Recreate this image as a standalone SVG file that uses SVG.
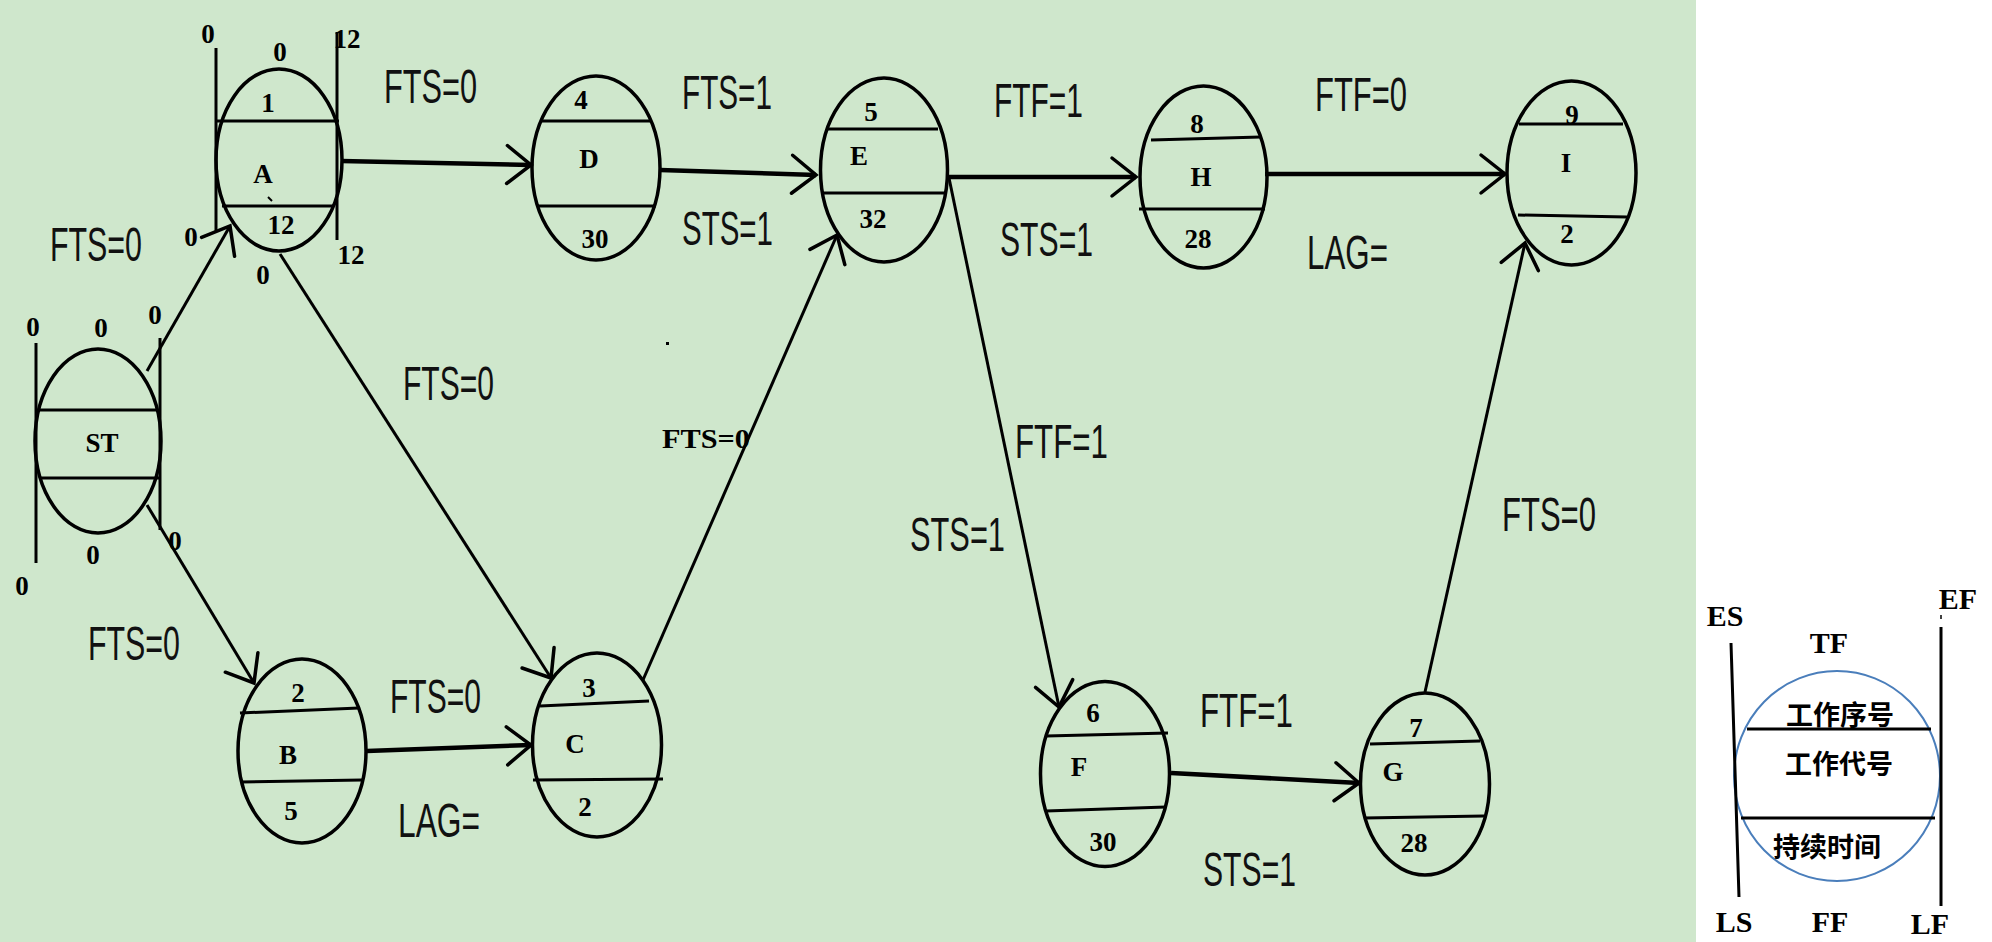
<svg xmlns="http://www.w3.org/2000/svg" width="1992" height="942" viewBox="0 0 1992 942">
<defs>
<style>
.node ellipse{fill:none;stroke:#000;stroke-width:3.5}
.dv{stroke:#000;stroke-width:3}
.vl{stroke:#000;stroke-width:3}
.t{font-family:"Liberation Serif",serif;font-weight:bold;font-size:27px;text-anchor:middle;fill:#000}
.lg{font-family:"Liberation Serif",serif;font-weight:bold;font-size:30px;text-anchor:middle;fill:#000}
.rel{font-family:"Liberation Sans",sans-serif;font-size:48px;fill:#111}
.conn path{fill:none;stroke:#000;stroke-width:3;marker-end:url(#arr)}
.conn path.thick{stroke-width:4.5}
.cjk{font-family:"Liberation Sans","Noto Sans CJK SC",sans-serif;font-weight:bold;font-size:27px;text-anchor:middle;fill:#000}
</style>
<marker id="arr" markerUnits="userSpaceOnUse" viewBox="-30 -25 35 50" refX="0" refY="0" markerWidth="35" markerHeight="50" orient="auto">
<path d="M-24,-19 L0,0 L-24,19" fill="none" stroke="#000" stroke-width="3.5" stroke-linecap="round" stroke-linejoin="miter"/>
</marker>
</defs>
<rect x="0" y="0" width="1992" height="942" fill="#ffffff"/>
<rect x="0" y="0" width="1696" height="942" fill="#cfe7cc"/>

<g id="connectors" class="conn">
<path d="M147,371 L230,226"/>
<path d="M147,505 L254,683"/>
<path class="thick" d="M341,161 L531,165"/>
<path d="M280,254 L551,678"/>
<path class="thick" d="M367,751 L531,745"/>
<path d="M643,680 L837,235"/>
<path class="thick" d="M660,170 L816,175"/>
<path class="thick" d="M948,177 L1136,177"/>
<path class="thick" d="M1265,174 L1505,174"/>
<path d="M949,178 L1059,707"/>
<path class="thick" d="M1171,773 L1359,783"/>
<path d="M1425,692 L1525,243"/>
</g>

<g id="labels">
<text class="rel" x="384" y="103" textLength="93" lengthAdjust="spacingAndGlyphs">FTS=0</text>
<text class="rel" x="682" y="109" textLength="90" lengthAdjust="spacingAndGlyphs">FTS=1</text>
<text class="rel" x="682" y="245" textLength="91" lengthAdjust="spacingAndGlyphs">STS=1</text>
<text class="rel" x="994" y="117" textLength="89" lengthAdjust="spacingAndGlyphs">FTF=1</text>
<text class="rel" x="1000" y="256" textLength="93" lengthAdjust="spacingAndGlyphs">STS=1</text>
<text class="rel" x="1315" y="111" textLength="92" lengthAdjust="spacingAndGlyphs">FTF=0</text>
<text class="rel" x="1307" y="269" textLength="81" lengthAdjust="spacingAndGlyphs">LAG=</text>
<text class="rel" transform="translate(50,261) scale(0.633,1)" x="0" y="0">FTS=0</text>
<text class="rel" x="403" y="400" textLength="91" lengthAdjust="spacingAndGlyphs">FTS=0</text>
<text x="662" y="448" textLength="88" lengthAdjust="spacingAndGlyphs" style="font-family:'Liberation Serif',serif;font-weight:bold;font-size:28px;fill:#000">FTS=0</text>
<text class="rel" x="88" y="660" textLength="92" lengthAdjust="spacingAndGlyphs">FTS=0</text>
<text class="rel" x="390" y="713" textLength="91" lengthAdjust="spacingAndGlyphs">FTS=0</text>
<text class="rel" x="398" y="837" textLength="82" lengthAdjust="spacingAndGlyphs">LAG=</text>
<text class="rel" x="1015" y="458" textLength="93" lengthAdjust="spacingAndGlyphs">FTF=1</text>
<text class="rel" x="910" y="551" textLength="95" lengthAdjust="spacingAndGlyphs">STS=1</text>
<text class="rel" x="1502" y="531" textLength="94" lengthAdjust="spacingAndGlyphs">FTS=0</text>
<text class="rel" x="1200" y="727" textLength="93" lengthAdjust="spacingAndGlyphs">FTF=1</text>
<text class="rel" x="1203" y="886" textLength="93" lengthAdjust="spacingAndGlyphs">STS=1</text>
<rect x="666" y="342" width="3" height="3" fill="#000"/>
</g>

<g id="node-ST" class="node">
<ellipse cx="98" cy="441" rx="63" ry="92"/>
<line class="dv" x1="38" y1="410" x2="158" y2="410"/>
<line class="dv" x1="39" y1="478" x2="160" y2="478"/>
<line class="vl" x1="36" y1="343" x2="36" y2="563"/>
<line class="vl" x1="160" y1="338" x2="160" y2="530"/>
<text class="t" x="33" y="336">0</text>
<text class="t" x="101" y="337">0</text>
<text class="t" x="155" y="324">0</text>
<text class="t" x="102" y="452">ST</text>
<text class="t" x="93" y="564">0</text>
<text class="t" x="175" y="550">0</text>
<text class="t" x="22" y="595">0</text>
</g>

<g id="node-A" class="node">
<ellipse cx="279" cy="160" rx="63" ry="91"/>
<line class="dv" x1="217" y1="121" x2="339" y2="121"/>
<line class="dv" x1="222" y1="206" x2="333" y2="206"/>
<line class="vl" x1="216" y1="48" x2="216" y2="232"/>
<line class="vl" x1="337" y1="32" x2="337" y2="240"/>
<line x1="268" y1="197" x2="272" y2="201" stroke="#000" stroke-width="2"/>
<text class="t" x="208" y="43">0</text>
<text class="t" x="280" y="61">0</text>
<text class="t" x="347" y="48">12</text>
<text class="t" x="268" y="112">1</text>
<text class="t" x="263" y="183">A</text>
<text class="t" x="281" y="234">12</text>
<text class="t" x="191" y="246">0</text>
<text class="t" x="351" y="264">12</text>
<text class="t" x="263" y="284">0</text>
</g>

<g id="node-D" class="node">
<ellipse cx="596" cy="168" rx="64" ry="92"/>
<line class="dv" x1="541" y1="121" x2="650" y2="121"/>
<line class="dv" x1="537" y1="206" x2="656" y2="206"/>
<text class="t" x="581" y="109">4</text>
<text class="t" x="589" y="168">D</text>
<text class="t" x="595" y="248">30</text>
</g>

<g id="node-E" class="node">
<ellipse cx="884" cy="170" rx="63.5" ry="92"/>
<line class="dv" x1="828" y1="129" x2="938" y2="129"/>
<line class="dv" x1="824" y1="193" x2="945" y2="193"/>
<text class="t" x="871" y="121">5</text>
<text class="t" x="859" y="165">E</text>
<text class="t" x="873" y="228">32</text>
</g>

<g id="node-H" class="node">
<ellipse cx="1203.5" cy="177" rx="63.5" ry="91"/>
<line class="dv" x1="1151" y1="140" x2="1261" y2="137"/>
<line class="dv" x1="1139" y1="209" x2="1265" y2="209"/>
<text class="t" x="1197" y="133">8</text>
<text class="t" x="1201" y="186">H</text>
<text class="t" x="1198" y="248">28</text>
</g>

<g id="node-I" class="node">
<ellipse cx="1571.5" cy="173" rx="64.5" ry="92"/>
<line class="dv" x1="1519" y1="124" x2="1623" y2="124"/>
<line class="dv" x1="1518" y1="215" x2="1627" y2="217"/>
<text class="t" x="1572" y="124">9</text>
<text class="t" x="1566" y="172">I</text>
<text class="t" x="1567" y="243">2</text>
</g>

<g id="node-B" class="node">
<ellipse cx="302" cy="751" rx="64" ry="92"/>
<line class="dv" x1="240" y1="713" x2="359" y2="708"/>
<line class="dv" x1="241" y1="782" x2="362" y2="780"/>
<text class="t" x="298" y="702">2</text>
<text class="t" x="288" y="764">B</text>
<text class="t" x="291" y="820">5</text>
</g>

<g id="node-C" class="node">
<ellipse cx="597" cy="745" rx="64.5" ry="92"/>
<line class="dv" x1="540" y1="706" x2="649" y2="701"/>
<line class="dv" x1="533" y1="780" x2="663" y2="779"/>
<text class="t" x="589" y="697">3</text>
<text class="t" x="575" y="753">C</text>
<text class="t" x="585" y="816">2</text>
</g>

<g id="node-F" class="node">
<ellipse cx="1105" cy="774" rx="64.5" ry="92.5"/>
<line class="dv" x1="1046" y1="736" x2="1168" y2="733"/>
<line class="dv" x1="1046" y1="811" x2="1166" y2="807"/>
<text class="t" x="1093" y="722">6</text>
<text class="t" x="1079" y="776">F</text>
<text class="t" x="1103" y="851">30</text>
</g>

<g id="node-G" class="node">
<ellipse cx="1425" cy="784" rx="64.5" ry="91"/>
<line class="dv" x1="1370" y1="744" x2="1480" y2="741"/>
<line class="dv" x1="1364" y1="818" x2="1484" y2="816"/>
<text class="t" x="1416" y="737">7</text>
<text class="t" x="1393" y="781">G</text>
<text class="t" x="1414" y="852">28</text>
</g>

<g id="legend">
<ellipse cx="1837" cy="776" rx="103" ry="105" fill="none" stroke="#4a7ebb" stroke-width="2"/>
<line class="dv" x1="1747" y1="729" x2="1931" y2="729"/>
<line class="dv" x1="1741" y1="818" x2="1935" y2="818"/>
<line class="vl" x1="1731" y1="643" x2="1739" y2="897"/>
<line class="vl" x1="1941" y1="627" x2="1941" y2="906"/>
<line x1="1941" y1="615" x2="1941" y2="619" stroke="#000" stroke-width="1.5"/>
<text class="lg" x="1725" y="626">ES</text>
<text class="lg" x="1829" y="653">TF</text>
<text class="lg" x="1958" y="609">EF</text>
<text class="cjk" x="1840" y="725">工作序号</text>
<text class="cjk" x="1839" y="774">工作代号</text>
<text class="cjk" x="1827" y="857">持续时间</text>
<text class="lg" x="1734" y="932">LS</text>
<text class="lg" x="1830" y="932">FF</text>
<text class="lg" x="1930" y="934">LF</text>
</g>
</svg>
